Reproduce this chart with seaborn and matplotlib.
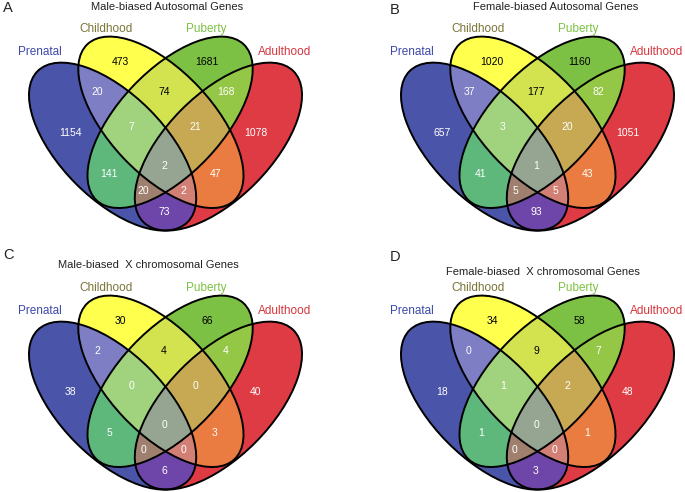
import numpy as np
import matplotlib
matplotlib.use("Agg")
import matplotlib.pyplot as plt
from matplotlib.patches import Ellipse
from matplotlib.colors import to_rgba
import seaborn as sns

sets = ["Prenatal", "Childhood", "Puberty", "Adulthood"]
titles = ["Male-biased Autosomal Genes", "Female-biased Autosomal Genes",
          "Male-biased  X chromosomal Genes", "Female-biased  X chromosomal Genes"]
letters = ["A", "B", "C", "D"]

# region membership (Prenatal, Childhood, Puberty, Adulthood), same order as the counts
members = [(1, 0, 0, 0), (0, 1, 0, 0), (0, 0, 1, 0), (0, 0, 0, 1), (1, 1, 0, 0), (0, 1, 1, 0),
           (0, 0, 1, 1), (1, 0, 1, 0), (0, 1, 0, 1), (1, 0, 0, 1), (1, 1, 1, 0), (0, 1, 1, 1),
           (1, 0, 1, 1), (1, 1, 0, 1), (1, 1, 1, 1)]
male_auto = [1154, 473, 1681, 1078, 20, 74, 168, 141, 47, 73, 7, 21, 20, 2, 2]
female_auto = [657, 1020, 1160, 1051, 37, 177, 82, 41, 43, 93, 3, 20, 5, 5, 1]
male_x = [38, 30, 66, 40, 2, 4, 4, 5, 3, 6, 0, 0, 0, 0, 0]
female_x = [18, 34, 58, 48, 0, 9, 7, 1, 1, 3, 1, 2, 0, 0, 0]

# styling / layout
set_colors = ["#3C48A8", "#7A7436", "#7DC243", "#D7353D"]
region_colors = ["#4A56A9", "#FFFF4D", "#7DC243", "#E03C44", "#7E7EC6", "#D3E34F", "#94C846",
                 "#5FB97D", "#EB7D41", "#6E46AA", "#A2D27E", "#C8AA55", "#A0806E", "#D28076",
                 "#96A591"]
dark_text = {1, 2, 5}
label_xy = [(70, 133), (120, 62), (207, 62), (256, 133), (97, 92), (164, 92), (226, 92),
            (109, 174), (215, 174), (164, 212), (131, 127), (195, 127), (143, 191), (183, 191),
            (164, 166)]
# center x, center y, semi-major, semi-minor, angle (panel pixels, y down)
ellipses = [(112.6, 146.6, 106.4, 52.2, -134.8),
            (160.9, 122.3, 107.2, 51.8, -133.3),
            (170.1, 122.3, 107.2, 51.8, 133.3),
            (218.4, 146.6, 106.4, 52.2, 134.8)]

sns.set_theme(style="white")
plt.rcParams["font.family"] = ["Liberation Sans", "DejaVu Sans"]

W, H = 313, 240
fig = plt.figure(figsize=(6.85, 4.92), dpi=100)
offsets = [(0, 0), (372, 0), (0, 259), (372, 259)]
title_xy = [(167, 7), (184, 7), (148, 6), (171, 13)]
letter_xy = [(8, 8), (23, 10), (8, -4), (23, -2)]
name_xy = [(40, 52), (106, 29), (206, 29), (285, 52)]

# rasterise the 15 regions so each one gets its own fill colour
gx, gy = np.meshgrid(np.arange(0, W, 0.5) + 0.25, np.arange(0, H, 0.5) + 0.25)
masks = []
for cx, cy, a, b, ang in ellipses:
    t = np.radians(ang)
    u = (gx - cx) * np.cos(t) + (gy - cy) * np.sin(t)
    v = -(gx - cx) * np.sin(t) + (gy - cy) * np.cos(t)
    masks.append((u / a) ** 2 + (v / b) ** 2 <= 1)
img = np.zeros(gx.shape + (4,))
for mem, col in zip(members, region_colors):
    sel = np.ones(gx.shape, bool)
    for inside, mk in zip(mem, masks):
        sel &= mk if inside else ~mk
    img[sel] = to_rgba(col)

for k, counts in enumerate([male_auto, female_auto, male_x, female_x]):
    ox, oy = offsets[k]
    ax = fig.add_axes([ox / 685, 1 - (oy + H) / 492, W / 685, H / 492])
    ax.set_xlim(0, W)
    ax.set_ylim(H, 0)
    ax.axis("off")
    ax.imshow(img, extent=(0, W, H, 0), interpolation="bilinear", zorder=1)
    for cx, cy, a, b, ang in ellipses:
        ax.add_patch(Ellipse((cx, cy), 2 * a, 2 * b, angle=ang, fill=False,
                             edgecolor="black", lw=1.4, zorder=2))
    for i, (n, (x, y)) in enumerate(zip(counts, label_xy)):
        ax.text(x, y, str(n), ha="center", va="center", fontsize=7.5,
                color="black" if i in dark_text else "white", zorder=3)
    for name, col, (x, y) in zip(sets, set_colors, name_xy):
        ax.text(x, y, name, ha="center", va="center", fontsize=8.5, color=col, clip_on=False)
    ax.text(*title_xy[k], titles[k], ha="center", va="center", fontsize=8,
            color="#222222", clip_on=False)
    ax.text(*letter_xy[k], letters[k], ha="center", va="center", fontsize=10.5,
            color="#222222", clip_on=False)

fig.savefig("out.png", dpi=100)
